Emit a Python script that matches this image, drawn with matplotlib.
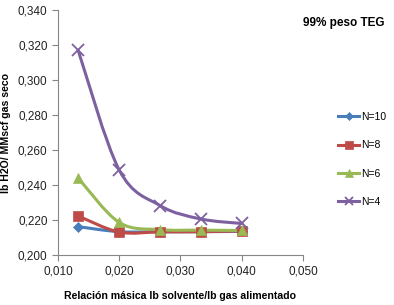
import matplotlib
matplotlib.use("Agg")
import matplotlib.pyplot as plt
from matplotlib.ticker import FuncFormatter, MultipleLocator
from matplotlib.path import Path
from matplotlib.patches import PathPatch
from matplotlib.lines import Line2D

plt.rcParams['font.family'] = ['Liberation Sans', 'DejaVu Sans']

# data
x = [0.0133, 0.020, 0.0267, 0.0333, 0.040]
series_names = ['N=10', 'N=8', 'N=6', 'N=4']
n10 = [0.2162, 0.2133, 0.2133, 0.2133, 0.2135]
n8 = [0.2223, 0.2131, 0.2132, 0.2133, 0.2138]
n6 = [0.2440, 0.2186, 0.2145, 0.2142, 0.2140]
n4 = [0.3170, 0.2486, 0.2282, 0.2206, 0.2180]

colors = ['#4A7EBB', '#BE4B48', '#98B954', '#7D60A0']
markers = ['D', 's', '^', 'x']
msizes = [5, 7, 7, 8]


def smooth_path(xs, ys):
    # smoothed line like a spreadsheet "smoothed line" (cubic bezier segments)
    pts = list(zip(xs, ys))
    n = len(pts)
    verts = [pts[0]]
    codes = [Path.MOVETO]
    for i in range(n - 1):
        p0 = pts[i - 1] if i > 0 else pts[i]
        p1 = pts[i]
        p2 = pts[i + 1]
        p3 = pts[i + 2] if i + 2 < n else pts[i + 1]
        c1 = (p1[0] + (p2[0] - p0[0]) / 6, p1[1] + (p2[1] - p0[1]) / 6)
        c2 = (p2[0] - (p3[0] - p1[0]) / 6, p2[1] - (p3[1] - p1[1]) / 6)
        verts += [c1, c2, p2]
        codes += [Path.CURVE4] * 3
    return Path(verts, codes)


fig = plt.figure(figsize=(3.94, 3.05), dpi=100)
ax = fig.add_axes([0.147, 0.164, 0.622, 0.803])

handles = []
for ys, name, c, m, ms in zip([n10, n8, n6, n4], series_names, colors, markers, msizes):
    ax.add_patch(PathPatch(smooth_path(x, ys), fill=False, edgecolor=c, lw=2.2,
                           capstyle='round', joinstyle='round'))
    mew = 1.3 if m == 'x' else 0.5
    ax.plot(x, ys, ls='none', color=c, marker=m, markersize=ms, markeredgewidth=mew)
    handles.append(Line2D([], [], color=c, lw=2.2, marker=m,
                          markersize=ms * 0.8, markeredgewidth=mew, label=name))

ax.set_xlim(0.010, 0.050)
ax.set_ylim(0.200, 0.340)
ax.xaxis.set_major_locator(MultipleLocator(0.010))
ax.yaxis.set_major_locator(MultipleLocator(0.020))
fmt = FuncFormatter(lambda v, p: f"{v:.3f}".replace('.', ','))
ax.xaxis.set_major_formatter(fmt)
ax.yaxis.set_major_formatter(fmt)

for s in ['top', 'right']:
    ax.spines[s].set_visible(False)
for s in ['left', 'bottom']:
    ax.spines[s].set_color('#868686')
    ax.spines[s].set_linewidth(0.8)
ax.tick_params(colors='#868686', labelcolor='#222222', labelsize=8.5, length=4, width=0.8)

ax.set_xlabel('Relación másica lb solvente/lb gas alimentado', fontsize=7.6,
              fontweight='bold', labelpad=10)
ax.set_ylabel('lb H2O/ MMscf gas seco', fontsize=7.6, fontweight='bold', labelpad=5)

fig.text(0.975, 0.915, '99% peso TEG', fontsize=8.5, fontweight='bold', ha='right')

ax.legend(handles=handles, loc='center left', bbox_to_anchor=(1.12, 0.39), frameon=False,
          borderpad=0, fontsize=7.5, handlelength=2.1, labelspacing=1.75, handletextpad=0.2)

fig.savefig('out.png', dpi=100)
